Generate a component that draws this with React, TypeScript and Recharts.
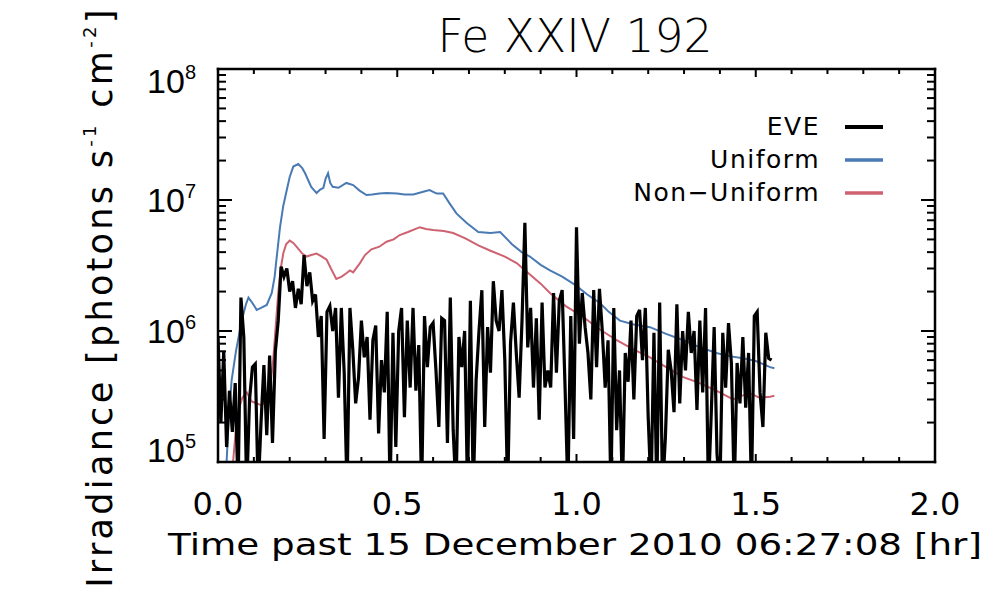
import React from "react";
import { LineChart, Line, XAxis, YAxis } from "recharts";

// EVE Fe XXIV 192 irradiance, one sample every 0.008 hr from t = 0
const EVE_CADENCE = 0.008;
const eveValues = [
  9e5, 2e5, 7e5, 1.3e5, 3.5e5, 1.7e5, 4e5, 6e4, 1.8e6, 9e5,
  6e4, 3e5, 5.3e5, 5.6e5, 6e4, 2e5, 5.5e5, 1.6e5, 6.5e5, 1.4e5,
  7e5, 1.2e6, 3.1e6, 2.6e6, 3.0e6, 2.0e6, 2.4e6, 1.5e6, 2.1e6, 1.6e6,
  3.8e6, 2.2e6, 2.8e6, 1.7e6, 1.9e6, 9e5, 1.3e6, 1.5e5, 1.4e6, 1.55e6,
  1.0e6, 1.5e6, 3.1e5, 1.5e6, 4.8e5, 6e4, 1.5e6, 7.2e5, 2.8e5, 4.4e5,
  1.2e6, 6.3e5, 9e5, 2.1e5, 8.5e5, 1.1e6, 1.65e5, 6e5, 3.4e5, 1.4e6,
  6e4, 9.7e5, 1.3e5, 1e6, 1.5e6, 2.2e5, 1.2e6, 3.7e5, 1.5e6, 3.5e5,
  7.8e5, 6e4, 1.3e6, 5.3e5, 1.07e6, 1.15e6, 5e5, 1.85e5, 1.25e6, 1.2e6,
  1.4e5, 1.8e6, 1.75e5, 6e4, 9e5, 5.3e5, 1e6, 6e4, 1.7e6, 6e4,
  4.2e5, 1e6, 2.05e6, 1.85e5, 1.07e6, 4.8e5, 2.4e6, 1.2e6, 1e6, 2.05e6,
  6e5, 6e4, 8.1e5, 1.65e6, 6.8e5, 3.1e5, 1.2e6, 6.7e6, 7.5e5, 1.5e6,
  3.7e5, 1.25e6, 2.1e5, 1.65e6, 3.7e5, 5e5, 3.7e5, 1.95e6, 4.8e5, 1.7e6,
  2.05e6, 3.8e5, 6e4, 1.3e6, 1.5e5, 6.2e6, 8e5, 1.95e6, 1.07e6, 6.8e5,
  3e5, 2.05e6, 5.3e5, 2.1e6, 1e6, 3.7e5, 8.5e5, 6e4, 1.5e6, 1.75e5,
  5e5, 6e4, 6.8e5, 4.1e5, 1.2e6, 3e5, 1.3e6, 1.45e6, 6e5, 1.5e6,
  2.2e5, 6e4, 9.7e5, 6e4, 1.65e6, 6e4, 1.55e5, 7.2e5, 5e5, 2.4e5,
  1.6e6, 2.8e5, 1e6, 5e5, 1.4e6, 6.8e5, 1e6, 2.5e5, 1.2e6, 3.4e5,
  1.5e6, 6e4, 2.4e5, 1.07e6, 1.15e5, 6e4, 9.7e5, 3.7e5, 1.15e6, 5.7e5,
  6e4, 5.7e5, 2.8e5, 9e5, 2.6e5, 6.8e5, 6e4, 1.3e6, 1.4e6, 3.4e5,
  1.85e5, 9.7e5, 6.2e5, 6e5,
];

const uniformTimes = [
  0.02, 0.024, 0.03, 0.038, 0.05, 0.066, 0.078, 0.085, 0.095, 0.108,
  0.12, 0.136, 0.15, 0.158, 0.163, 0.173, 0.182, 0.19, 0.2, 0.21,
  0.224, 0.235, 0.243, 0.26, 0.275, 0.285, 0.294, 0.3, 0.307, 0.313,
  0.32, 0.336, 0.358, 0.377, 0.395, 0.414, 0.43, 0.45, 0.47, 0.5,
  0.52, 0.545, 0.57, 0.59, 0.61, 0.628, 0.645, 0.665, 0.693, 0.726,
  0.76, 0.787, 0.82, 0.847, 0.87, 0.9, 0.926, 0.96, 0.996, 1.03,
  1.066, 1.09, 1.121, 1.16, 1.205, 1.25, 1.298, 1.34, 1.39, 1.43,
  1.465, 1.5, 1.54, 1.552,
];
const uniformValues = [
  8e4, 1e5, 2.2e5, 4.2e5, 7e5, 1.2e6, 1.6e6, 1.8e6, 1.65e6, 1.45e6,
  1.5e6, 1.58e6, 1.95e6, 2.6e6, 3.5e6, 6.2e6, 9e6, 1.13e7, 1.5e7, 1.8e7,
  1.88e7, 1.75e7, 1.6e7, 1.26e7, 1.13e7, 1.2e7, 1.24e7, 1.45e7, 1.6e7, 1.35e7,
  1.26e7, 1.24e7, 1.35e7, 1.3e7, 1.18e7, 1.09e7, 1.1e7, 1.12e7, 1.13e7, 1.12e7,
  1.1e7, 1.1e7, 1.15e7, 1.19e7, 1.12e7, 1.12e7, 9.5e6, 7.9e6, 6.7e6, 5.7e6,
  5.6e6, 5.7e6, 4.6e6, 4e6, 3.7e6, 3.2e6, 2.9e6, 2.6e6, 2.25e6, 1.9e6,
  1.63e6, 1.4e6, 1.2e6, 1.12e6, 1.07e6, 9.5e5, 8.5e5, 7.6e5, 6.8e5, 6.4e5,
  6.2e5, 5.9e5, 5.3e5, 5.2e5,
];

const nonUniformTimes = [
  0.038, 0.042, 0.05, 0.057, 0.068, 0.08, 0.094, 0.108, 0.122, 0.132,
  0.14, 0.148, 0.154, 0.16, 0.168, 0.175, 0.182, 0.19, 0.2, 0.21,
  0.219, 0.235, 0.247, 0.26, 0.275, 0.29, 0.303, 0.315, 0.33, 0.345,
  0.358, 0.368, 0.377, 0.396, 0.41, 0.428, 0.45, 0.47, 0.49, 0.507,
  0.53, 0.563, 0.58, 0.6, 0.63, 0.656, 0.69, 0.726, 0.76, 0.8,
  0.833, 0.87, 0.9, 0.926, 0.97, 1.019, 1.06, 1.112, 1.16, 1.205,
  1.25, 1.298, 1.344, 1.39, 1.437, 1.46, 1.484, 1.51, 1.54, 1.552,
];
const nonUniformValues = [
  8e4, 1e5, 1.8e5, 2.5e5, 3.1e5, 3.4e5, 2.9e5, 2.8e5, 2.7e5, 3e5,
  3.4e5, 4.3e5, 6e5, 1e6, 1.95e6, 3e6, 3.9e6, 4.6e6, 4.9e6, 4.7e6,
  4.4e6, 3.9e6, 3.7e6, 3.8e6, 3.9e6, 3.7e6, 3.5e6, 3e6, 2.5e6, 2.6e6,
  2.76e6, 2.9e6, 2.8e6, 3.3e6, 3.8e6, 4.2e6, 4.4e6, 4.8e6, 5e6, 5.4e6,
  5.7e6, 6.2e6, 6e6, 5.9e6, 5.8e6, 5.6e6, 5.1e6, 4.5e6, 4.1e6, 3.7e6,
  3.3e6, 2.7e6, 2.3e6, 1.95e6, 1.55e6, 1.28e6, 1.05e6, 8.5e5, 7.2e5, 6.3e5,
  5.3e5, 4.45e5, 4e5, 3.5e5, 3e5, 3.2e5, 3.35e5, 3.1e5, 3.15e5, 3.2e5,
];

const xMajorTicks = [0, 0.5, 1, 1.5, 2];
const xMinorTicks = [0.1, 0.2, 0.3, 0.4, 0.6, 0.7, 0.8, 0.9, 1.1, 1.2, 1.3, 1.4, 1.6, 1.7, 1.8, 1.9];
const yMajorTicks = [1e5, 1e6, 1e7, 1e8];
const yMinorTicks = [
  2e5, 3e5, 4e5, 5e5, 6e5, 7e5, 8e5, 9e5,
  2e6, 3e6, 4e6, 5e6, 6e6, 7e6, 8e6, 9e6,
  2e7, 3e7, 4e7, 5e7, 6e7, 7e7, 8e7, 9e7,
];

const X_DOMAIN: [number, number] = [0, 2];
const Y_DOMAIN: [number, number] = [1e5, 1e8];

const EVE_COLOR = "#000000";
const UNIFORM_COLOR = "#4a7ab4";
const NONUNIFORM_COLOR = "#cf6271";

const eveData = eveValues.map((v, i) => ({ t: i * EVE_CADENCE, v }));
const uniformData = uniformTimes.map((t, i) => ({ t, v: uniformValues[i] }));
const nonUniformData = nonUniformTimes.map((t, i) => ({ t, v: nonUniformValues[i] }));

const legendItems = [
  { name: "EVE", color: EVE_COLOR, width: 4 },
  { name: "Uniform", color: UNIFORM_COLOR, width: 3.5 },
  { name: "Non\u2212Uniform", color: NONUNIFORM_COLOR, width: 3.5 },
];

const FRAME = { stroke: "#000", strokeWidth: 2.5, strokeLinecap: "square" as const };
const TICK_LINE = { stroke: "#000", strokeWidth: 2 };
const noLabel = () => <g />;

function XTick({ x, y, payload }: any) {
  return (
    <text x={x} y={y + 53} textAnchor="middle" fontFamily="DejaVu Sans" fontSize={32} fill="#000">
      {payload.value.toFixed(1)}
    </text>
  );
}

function YTick({ x, y, payload }: any) {
  const exp = Math.round(Math.log10(payload.value));
  let dy = 12;
  if (payload.value === Y_DOMAIN[1]) dy = 24;
  if (payload.value === Y_DOMAIN[0]) dy = 0;
  return (
    <text x={x - 22} y={y + dy} textAnchor="end" fontFamily="Liberation Sans" fontSize={34} fill="#000">
      10
      <tspan dy={-14} fontSize={20}>
        {exp}
      </tspan>
    </text>
  );
}

// tick-only axes (mirrored so the marks point into the plot)
const xTickAxis = (id: string, orientation: "top" | "bottom", ticks: number[], size: number, frame: boolean) => (
  <XAxis key={id} xAxisId={id} orientation={orientation} type="number" dataKey="t" domain={X_DOMAIN} allowDataOverflow
    ticks={ticks} interval={0} mirror height={1} tickSize={size} tickLine={TICK_LINE}
    axisLine={frame ? FRAME : false} tick={noLabel} />
);
const yTickAxis = (id: string, orientation: "left" | "right", ticks: number[], size: number, frame: boolean) => (
  <YAxis key={id} yAxisId={id} orientation={orientation} type="number" scale="log" domain={Y_DOMAIN} allowDataOverflow
    ticks={ticks} interval={0} mirror width={1} tickSize={size} tickLine={TICK_LINE}
    axisLine={frame ? FRAME : false} tick={noLabel} />
);

export default function App() {
  return (
    <div style={{ position: "absolute", left: 0, top: 0, width: 1000, height: 600, background: "#fff" }}>
      <LineChart width={1000} height={600} margin={{ top: 69, right: 65, left: 138, bottom: 98 }}>
        <XAxis
          xAxisId="x"
          type="number"
          dataKey="t"
          domain={X_DOMAIN}
          allowDataOverflow
          ticks={xMajorTicks}
          interval={0}
          height={40}
          tickSize={0}
          tickMargin={0}
          tickLine={false}
          axisLine={FRAME}
          tick={<XTick />}
        />
        {xTickAxis("xMajB", "bottom", xMajorTicks, 8, false)}
        {xTickAxis("xMinB", "bottom", xMinorTicks, 4, false)}
        {xTickAxis("xMajT", "top", xMajorTicks, 8, true)}
        {xTickAxis("xMinT", "top", xMinorTicks, 4, false)}

        <YAxis
          yAxisId="y"
          type="number"
          scale="log"
          domain={Y_DOMAIN}
          allowDataOverflow
          ticks={yMajorTicks}
          interval={0}
          width={80}
          tickSize={0}
          tickMargin={0}
          tickLine={false}
          axisLine={FRAME}
          tick={<YTick />}
        />
        {yTickAxis("yMajL", "left", yMajorTicks, 14, false)}
        {yTickAxis("yMinL", "left", yMinorTicks, 7, false)}
        {yTickAxis("yMajR", "right", yMajorTicks, 14, true)}
        {yTickAxis("yMinR", "right", yMinorTicks, 7, false)}

        <Line data={uniformData} dataKey="v" xAxisId="x" yAxisId="y" type="linear" stroke={UNIFORM_COLOR}
          strokeWidth={2} dot={false} isAnimationActive={false} />
        <Line data={nonUniformData} dataKey="v" xAxisId="x" yAxisId="y" type="linear" stroke={NONUNIFORM_COLOR}
          strokeWidth={2} dot={false} isAnimationActive={false} />
        <Line data={eveData} dataKey="v" xAxisId="x" yAxisId="y" type="linear" stroke={EVE_COLOR}
          strokeWidth={3.2} strokeLinejoin="miter" dot={false} isAnimationActive={false} />
      </LineChart>

      <svg width={1000} height={600} style={{ position: "absolute", left: 0, top: 0, pointerEvents: "none" }}>
        <text x={575} y={52} textAnchor="middle" fontFamily="DejaVu Sans" fontWeight={200} fontSize={46}
          textLength={275} lengthAdjust="spacingAndGlyphs" fill="#000">
          Fe XXIV 192
        </text>
        <text x={168} y={555} fontFamily="DejaVu Sans" fontSize={30} textLength={814} lengthAdjust="spacingAndGlyphs"
          fill="#000">
          Time past 15 December 2010 06:27:08 [hr]
        </text>
        <text transform="translate(112,297) rotate(-90)" textAnchor="middle" fontFamily="DejaVu Sans" fontSize={35}
          letterSpacing={3.3} fill="#000">
          Irradiance [photons s
          <tspan dy={-16} fontSize={18}>-1</tspan>
          <tspan dy={16}> cm</tspan>
          <tspan dy={-16} fontSize={18}>-2</tspan>
          <tspan dy={16}>]</tspan>
        </text>
        {legendItems.map((item, i) => (
          <g key={item.name}>
            <text x={820} y={135 + i * 33} textAnchor="end" fontFamily="DejaVu Sans" fontSize={25}
              letterSpacing={1.5} fill="#000">
              {item.name}
            </text>
            <line x1={845} x2={883} y1={127 + i * 33} y2={127 + i * 33} stroke={item.color} strokeWidth={item.width} />
          </g>
        ))}
      </svg>
    </div>
  );
}
